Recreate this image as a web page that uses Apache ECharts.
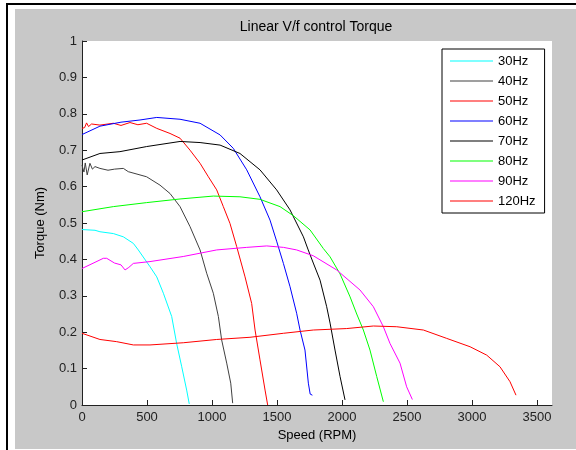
<!DOCTYPE html>
<html>
<head>
<meta charset="utf-8">
<script src="https://cdn.jsdelivr.net/npm/echarts@6/dist/echarts.min.js"></script>
<style>
  html, body { margin: 0; padding: 0; background: #fff; }
  #chart { width: 576px; height: 450px; }
</style>
</head>
<body>
<div id="chart"></div>
<script>
// speed (RPM), torque (Nm) pairs
const hz30 = [[0,0.482],[100,0.48],[138,0.476],[241,0.471],[318,0.462],[395,0.444],[433,0.426],[523,0.38],[575,0.352],[626,0.307],[690,0.243],[728,0.169],[767,0.105],[805,0.041],[825,0.003]];
const hz40 = [[0,0.659],[15,0.64],[25,0.665],[40,0.632],[61,0.664],[80,0.648],[100,0.655],[138,0.65],[200,0.645],[250,0.648],[318,0.65],[356,0.641],[497,0.627],[600,0.604],[677,0.581],[754,0.545],[831,0.49],[908,0.426],[959,0.362],[1010,0.307],[1049,0.243],[1074,0.179],[1113,0.115],[1144,0.06],[1159,0.005]];
const hz50 = [[0,0.76],[20,0.762],[35,0.775],[50,0.765],[74,0.772],[138,0.769],[241,0.774],[300,0.768],[369,0.776],[430,0.77],[497,0.774],[575,0.76],[677,0.746],[754,0.733],[831,0.7],[908,0.664],[972,0.627],[1036,0.591],[1087,0.545],[1138,0.499],[1190,0.435],[1254,0.352],[1305,0.279],[1331,0.206],[1369,0.124],[1408,0.041],[1428,0]];
const hz60 = [[0,0.743],[138,0.766],[300,0.777],[446,0.783],[575,0.79],[754,0.785],[908,0.774],[1062,0.742],[1164,0.705],[1267,0.646],[1369,0.572],[1446,0.508],[1497,0.45],[1549,0.389],[1600,0.325],[1651,0.252],[1677,0.206],[1715,0.151],[1741,0.06],[1755,0.03],[1772,0.027]];
const hz70 = [[0,0.673],[138,0.691],[292,0.696],[497,0.71],[754,0.724],[908,0.721],[1062,0.714],[1215,0.691],[1369,0.646],[1497,0.591],[1600,0.536],[1703,0.462],[1740,0.426],[1779,0.39],[1831,0.343],[1882,0.27],[1908,0.225],[1946,0.151],[1985,0.078],[2023,0.014]];
const hz80 = [[0,0.531],[241,0.545],[497,0.556],[754,0.566],[1010,0.574],[1215,0.572],[1369,0.565],[1523,0.545],[1626,0.52],[1754,0.481],[1856,0.43],[1908,0.407],[1985,0.36],[2062,0.297],[2113,0.25],[2164,0.206],[2215,0.151],[2267,0.078],[2318,0.009]];
const hz90 = [[0,0.375],[100,0.392],[164,0.403],[190,0.403],[250,0.39],[300,0.385],[331,0.371],[360,0.378],[395,0.389],[523,0.394],[779,0.408],[1036,0.426],[1267,0.433],[1421,0.437],[1550,0.433],[1651,0.426],[1779,0.41],[1959,0.371],[2138,0.316],[2241,0.27],[2318,0.215],[2369,0.169],[2446,0.115],[2497,0.05],[2541,0.015]];
const hz120 = [[0,0.197],[138,0.18],[267,0.174],[395,0.165],[523,0.165],[779,0.171],[1036,0.18],[1292,0.186],[1549,0.197],[1779,0.206],[2036,0.21],[2241,0.217],[2421,0.215],[2626,0.206],[2805,0.183],[2985,0.16],[3113,0.137],[3215,0.105],[3292,0.064],[3338,0.027]];

const names = ["30Hz", "40Hz", "50Hz", "60Hz", "70Hz", "80Hz", "90Hz", "120Hz"];
const curves = [hz30, hz40, hz50, hz60, hz70, hz80, hz90, hz120];
const colors = ["#00ffff", "#404040", "#ff0000", "#0000ff", "#000000", "#00ff00", "#ff00ff", "#ff0000"];
const xTicks = [0, 500, 1000, 1500, 2000, 2500, 3000, 3500];

const font = "'Liberation Sans', Arial, sans-serif";
const chart = echarts.init(document.getElementById("chart"));

const option = {
  animation: false,
  backgroundColor: "#fff",
  graphic: [
    { type: "rect", z: -10, shape: { x: 15, y: 9, width: 561, height: 440 }, style: { fill: "#c8c8c8" } },
    { type: "rect", z: -5, shape: { x: 6, y: 3, width: 2, height: 447 }, style: { fill: "#000" } },
    { type: "rect", z: -5, shape: { x: 6, y: 3, width: 570, height: 2 }, style: { fill: "#000" } },
  ],
  title: {
    text: "Linear V/f control Torque",
    left: 316,
    textAlign: "center",
    top: 20,
    padding: 0,
    textStyle: { fontFamily: font, fontSize: 14, fontWeight: "normal", color: "#000" },
  },
  grid: {
    left: 82,
    top: 41,
    right: 24,
    bottom: 45,
    show: true,
    backgroundColor: "#fff",
    borderWidth: 0,
  },
  legend: {
    orient: "vertical",
    left: 442,
    top: 49,
    padding: [5, 9, 5, 8],
    icon: "rect",
    itemWidth: 43,
    itemHeight: 1,
    itemGap: 6,
    backgroundColor: "#fff",
    borderColor: "#000",
    borderWidth: 1,
    borderRadius: 0,
    textStyle: { fontFamily: font, fontSize: 13, color: "#000", lineHeight: 14 },
    data: names,
  },
  xAxis: {
    type: "value",
    min: 0,
    max: 3615,
    interval: 500,
    name: "Speed (RPM)",
    nameLocation: "middle",
    nameGap: 23,
    nameTextStyle: { fontFamily: font, fontSize: 13, color: "#000" },
    axisLine: { show: true, lineStyle: { color: "#222", width: 1 } },
    axisTick: { show: true, inside: true, length: 5, lineStyle: { color: "#222" }, customValues: xTicks },
    axisLabel: {
      fontFamily: font, fontSize: 13, color: "#222", margin: 6, customValues: xTicks,
      formatter: (v) => String(v),
    },
    splitLine: { show: false },
  },
  yAxis: {
    type: "value",
    min: 0,
    max: 1,
    interval: 0.1,
    name: "Torque (Nm)",
    nameLocation: "middle",
    nameGap: 35,
    nameTextStyle: { fontFamily: font, fontSize: 13, color: "#000" },
    axisLine: { show: true, lineStyle: { color: "#222", width: 1 } },
    axisTick: { show: true, inside: true, length: 5, lineStyle: { color: "#222" } },
    axisLabel: { fontFamily: font, fontSize: 13, color: "#222", margin: 5 },
    splitLine: { show: false },
  },
  series: curves.map((d, i) => ({
    name: names[i],
    type: "line",
    data: d,
    showSymbol: false,
    symbol: "none",
    smooth: false,
    color: colors[i],
    lineStyle: { color: colors[i], width: 1 },
  })),
};

chart.setOption(option);
</script>
</body>
</html>
